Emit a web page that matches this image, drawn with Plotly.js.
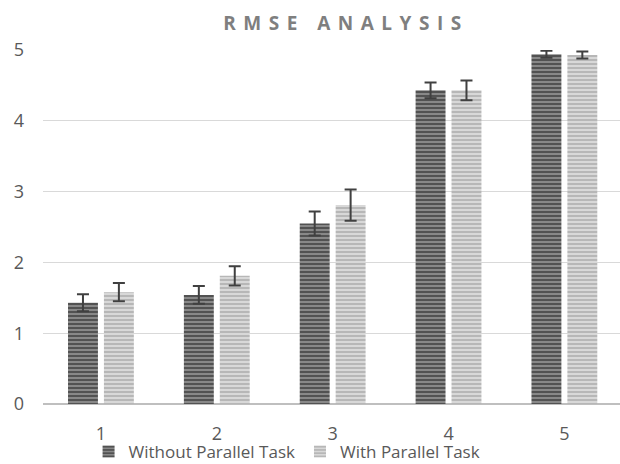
<!DOCTYPE html>
<html>
<head>
<meta charset="utf-8">
<script src="https://cdn.plot.ly/plotly-3.0.1.min.js"></script>
<style>
  html, body { margin: 0; padding: 0; background: #fff; }
  #chart { width: 620px; height: 464px; }
  .gtitle { letter-spacing: 7.5px; }
</style>
</head>
<body>
<div id="chart"></div>
<script>
const categories = ['1', '2', '3', '4', '5'];
const withoutTask = [1.43, 1.54, 2.55, 4.43, 4.94];
const withoutTaskErr = [0.12, 0.125, 0.17, 0.11, 0.05];
const withTask = [1.58, 1.81, 2.81, 4.43, 4.93];
const withTaskErr = [0.13, 0.135, 0.22, 0.14, 0.05];
const seriesNames = ['Without Parallel Task', 'With Parallel Task'];

const FONT = '"Open Sans", "Noto Sans", sans-serif';
const TXT = '#595959';

const traces = [
  {
    type: 'bar', name: seriesNames[0], x: categories, y: withoutTask,
    marker: {
      color: '#6a6a6a',
      pattern: { shape: '-', bgcolor: '#888888', fgcolor: '#4c4c4c', size: 4, solidity: 0.45 },
      line: { width: 0 }
    },
    error_y: { type: 'data', array: withoutTaskErr, visible: true, color: '#404040', thickness: 2, width: 6 }
  },
  {
    type: 'bar', name: seriesNames[1], x: categories, y: withTask,
    marker: {
      color: '#c8c8c8',
      pattern: { shape: '-', bgcolor: '#d8d8d8', fgcolor: '#b4b4b4', size: 4, solidity: 0.45 },
      line: { width: 0 }
    },
    error_y: { type: 'data', array: withTaskErr, visible: true, color: '#404040', thickness: 2, width: 6 }
  }
];

const layout = {
  width: 620, height: 464,
  margin: { l: 43, r: 0, t: 50, b: 60 },
  paper_bgcolor: '#ffffff', plot_bgcolor: '#ffffff',
  font: { family: FONT, size: 17, color: TXT },
  title: {
    text: 'RMSE ANALYSIS',
    font: { family: FONT, size: 19, color: '#7f7f7f', weight: 'bold' },
    x: 0.558, xanchor: 'center', y: 0.95, yanchor: 'middle'
  },
  barmode: 'group', bargap: 0.38, bargroupgap: 0.167,
  showlegend: true,
  legend: {
    orientation: 'h', x: 0.423, xanchor: 'center',
    yref: 'container', y: 0, yanchor: 'bottom',
    font: { family: FONT, size: 17, color: TXT },
    itemwidth: 30, tracegroupgap: 0, bgcolor: 'rgba(0,0,0,0)'
  },
  xaxis: {
    type: 'category', range: [-0.5, 4.48],
    showgrid: false, zeroline: false, showline: false,
    ticks: '', ticklabelstandoff: 17,
    tickfont: { family: FONT, size: 18, color: TXT }
  },
  yaxis: {
    range: [0, 5], dtick: 1, tick0: 0,
    showgrid: true, gridcolor: '#d9d9d9', gridwidth: 1,
    zeroline: true, zerolinecolor: '#bfbfbf', zerolinewidth: 2,
    showline: false, ticks: '', ticklabelstandoff: 18,
    tickfont: { family: FONT, size: 18, color: TXT }
  }
};

Plotly.newPlot('chart', traces, layout, { displayModeBar: false, staticPlot: true }).then(function () {
  // nudge the legend a few pixels lower, to sit at the very bottom like the reference
  const lg = document.querySelector('#chart .legend');
  if (lg) {
    const t = lg.getAttribute('transform') || '';
    const m = t.match(/translate\(\s*([-\d.]+)[ ,]+([-\d.]+)\s*\)/);
    if (m) lg.setAttribute('transform', 'translate(' + m[1] + ',' + (parseFloat(m[2]) + 6) + ')');
  }
});
</script>
</body>
</html>
